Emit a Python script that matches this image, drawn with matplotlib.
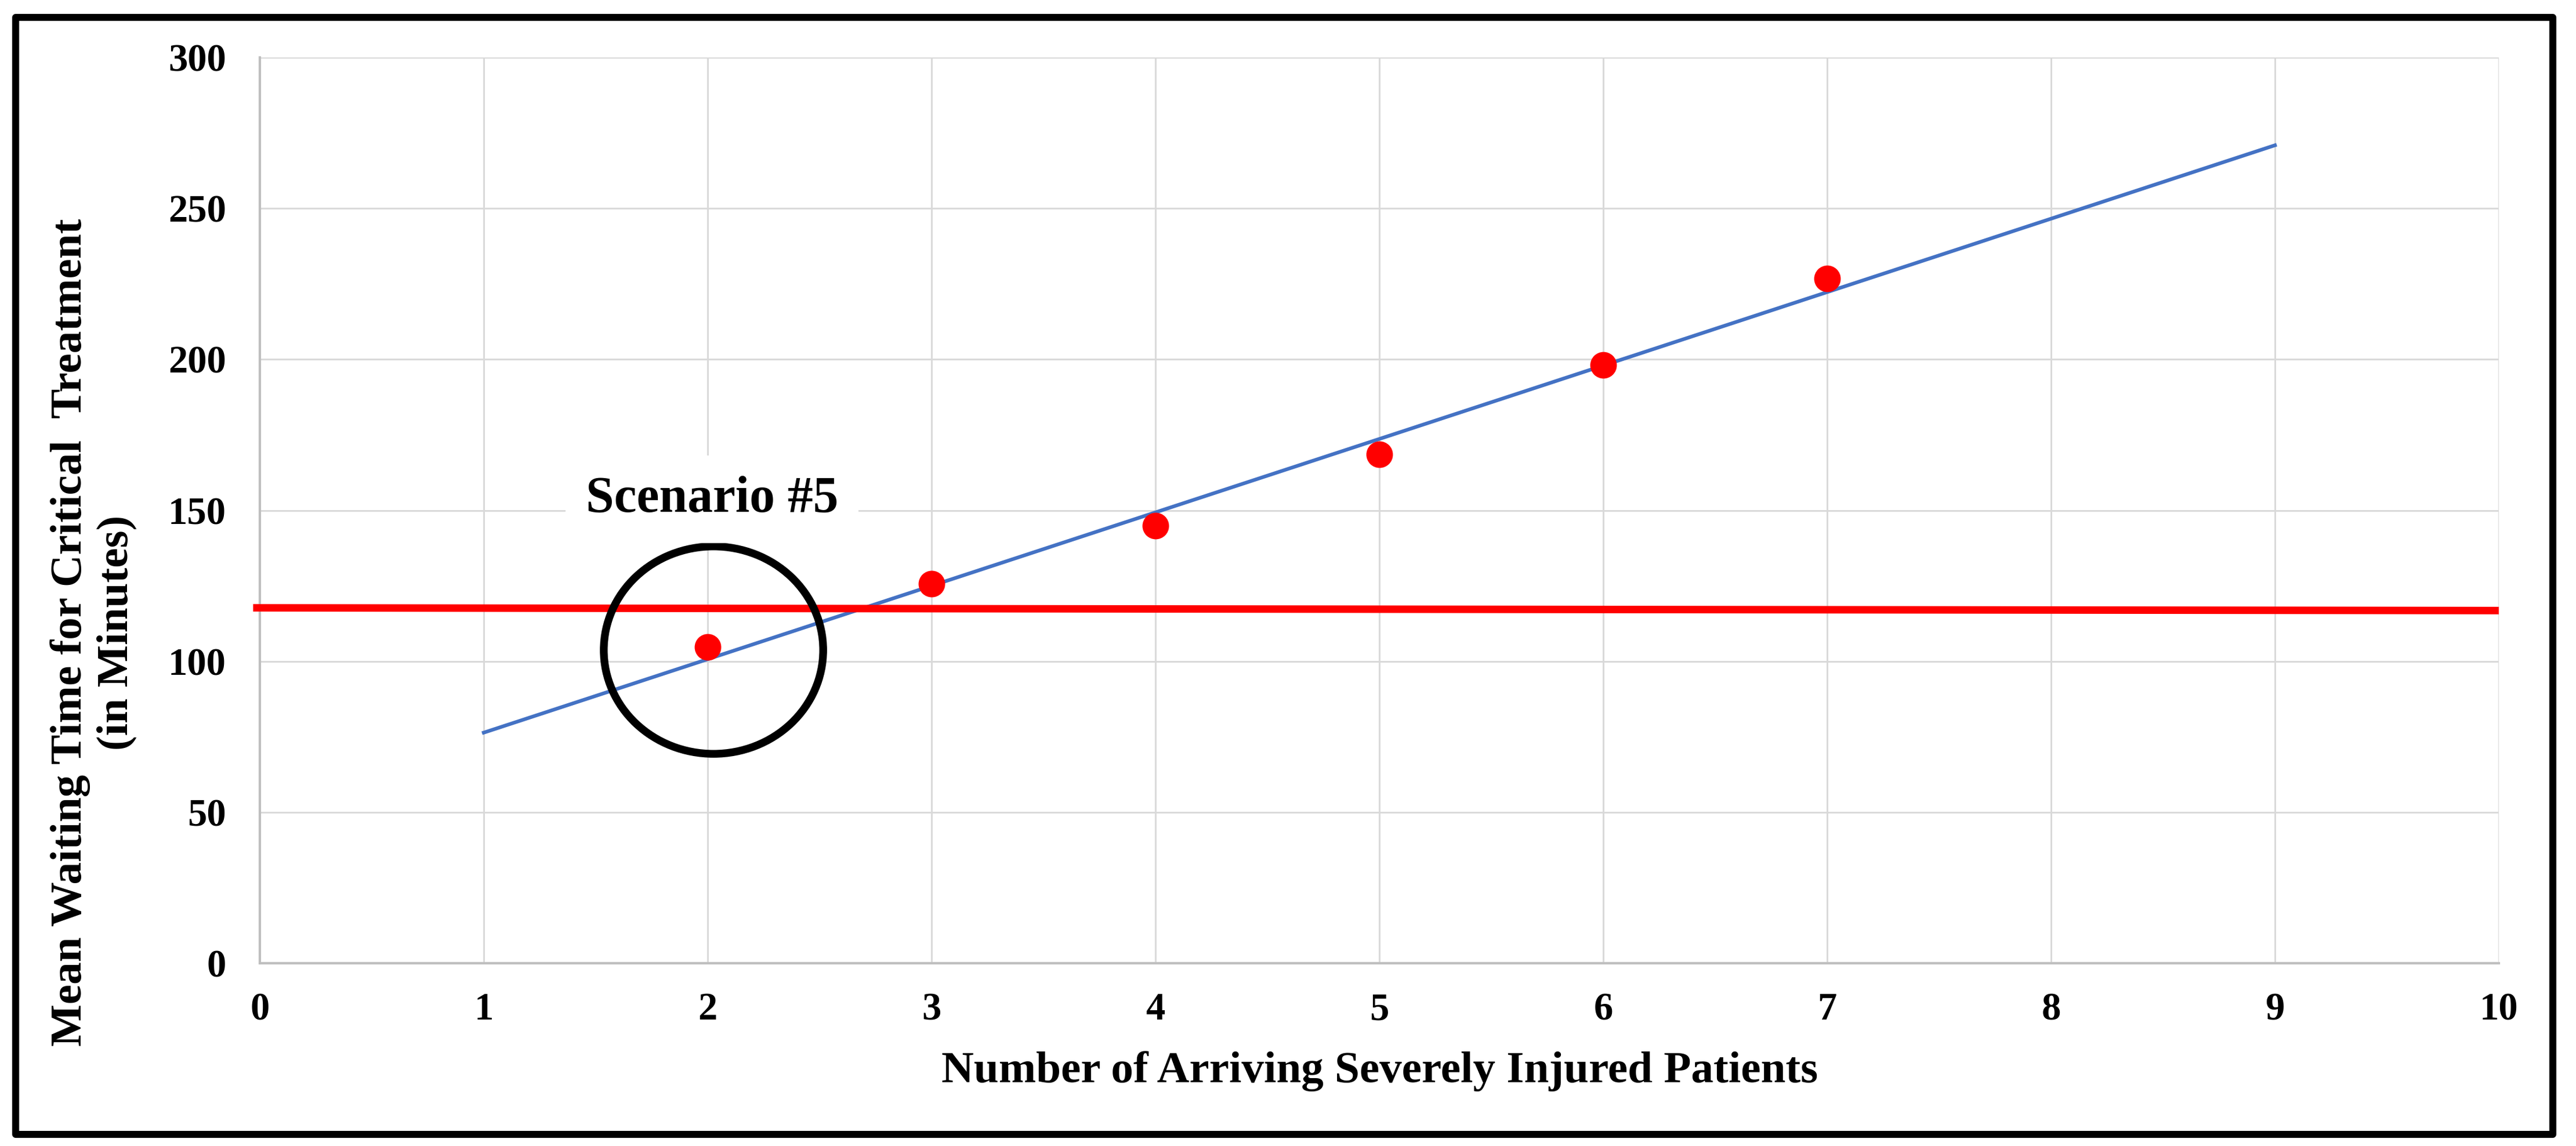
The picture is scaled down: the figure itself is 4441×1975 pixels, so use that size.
#mean waiting time vs number of arriving severely injured patients
import numpy as np
import matplotlib.pyplot as plt
from matplotlib.patches import Ellipse, Rectangle

plt.rcParams['font.family'] = ['Liberation Serif', 'DejaVu Serif']
plt.rcParams['font.weight'] = 'bold'

patients = [2, 3, 4, 5, 6, 7]
wait_min = [104.7, 125.7, 145.0, 168.6, 198.2, 226.7]
trend_x = [1, 9]
threshold_x = [-0.03, 10]
threshold_y = [117.7, 116.8]
xticks = list(range(0, 11))
yticks = [0, 50, 100, 150, 200, 250, 300]

fig = plt.figure(figsize=(4441/300, 1975/300), dpi=300)
ax = fig.add_axes([448/4441, 1-1660/1975, (4308-448)/4441, (1660-99)/1975])

ax.set_xlim(0, 10)
ax.set_ylim(0, 300)
ax.set_xticks(xticks)
ax.set_yticks(yticks)
ax.grid(True, color='#D9D9D9', linewidth=0.7, zorder=0)
ax.set_axisbelow(True)
for s in ['top', 'right']:
    ax.spines[s].set_visible(False)
for s in ['left', 'bottom']:
    ax.spines[s].set_color('#BFBFBF')
    ax.spines[s].set_linewidth(1.0)
ax.tick_params(axis='both', length=0, labelsize=16)
ax.tick_params(axis='x', pad=12)
ax.tick_params(axis='y', pad=14)
for lab in ax.get_xticklabels() + ax.get_yticklabels():
    lab.set_fontweight('bold')

# linear trendline from the scenario points
k, b = np.polyfit(patients, wait_min, 1)
tx = np.array(trend_x)
ax.plot(tx, k*tx + b, color='#4472C4', linewidth=1.5, zorder=3)

ax.plot(threshold_x, threshold_y, color='#FF0000', linewidth=3.1,
        solid_capstyle='butt', clip_on=False, zorder=4)

ax.plot(patients, wait_min, 'o', color='#FF0000', markersize=10, zorder=5)

ax.add_patch(Ellipse((2.026, 103.7), 0.98, 68.7, fill=False,
                     edgecolor='black', linewidth=3.2, zorder=6))
ax.text(2.02, 149.5, 'Scenario #5', fontsize=21, fontweight='bold',
        ha='center', va='baseline', zorder=7,
        bbox=dict(boxstyle='square,pad=0.4', facecolor='white', edgecolor='none'))

fig.text(2379/4441, 1-1865/1975, 'Number of Arriving Severely Injured Patients',
         fontsize=18.5, fontweight='bold', ha='center', va='baseline')
fig.text(161/4441, 1-1090/1975,
         'Mean Waiting Time for Critical  Treatment\n(in Minutes)',
         fontsize=18.5, fontweight='bold', rotation=90, ha='center', va='center',
         multialignment='center')

# outer frame
fig.patches.append(Rectangle((27/4441, 1-1955/1975), (4401-27)/4441, (1955-30)/1975,
                             transform=fig.transFigure, fill=False,
                             edgecolor='black', linewidth=2.9, joinstyle='round'))

fig.savefig('out.png', dpi=300)
